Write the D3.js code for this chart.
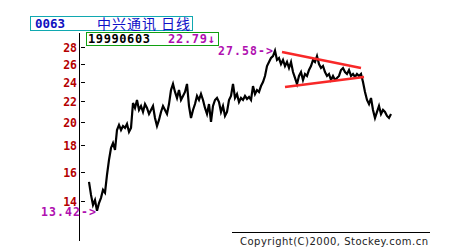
<!DOCTYPE html>
<html lang="zh">
<head>
    <meta charset="UTF-8">
    <title>0063</title>
    <style>
        body{ margin:0; background:#fff; }
        svg{ display:block; }
        .mono{ font-family:"DejaVu Sans Mono", monospace; font-weight:bold; }
    </style>
    <script src="https://cdn.jsdelivr.net/npm/d3@7"></script>
</head>
<body>
<script>
    const width = 450
    const height = 250

    // daily closes (one per 2px column)
    const closes = [15.28,14.41,13.77,14.08,13.42,13.89,14.22,14.74,14.55,15.76,
        16.87,17.80,18.20,17.64,19.30,19.74,19.30,19.65,19.48,19.83,
        19.13,19.48,21.79,21.31,22.09,21.12,21.50,20.93,21.69,21.31,
        20.74,21.12,21.50,20.37,19.65,20.19,20.93,21.50,21.12,20.74,
        21.69,23.10,23.74,22.90,22.29,23.10,22.09,22.49,22.90,23.74,
        21.50,20.37,21.12,21.69,22.49,22.09,22.69,22.09,21.31,20.74,
        21.69,20.01,21.50,22.09,22.29,21.89,20.93,21.50,20.56,20.93,
        22.09,22.49,23.74,22.29,22.69,21.89,22.29,22.09,22.49,22.19,
        22.39,22.09,23.52,22.69,23.10,22.90,23.52,23.95,24.61,25.74,
        26.21,26.68,26.92,27.58,26.45,26.68,25.97,26.45,25.74,26.21,
        25.51,26.21,25.05,24.39,23.74,24.61,25.05,24.17,24.83,24.61,
        25.28,25.74,26.45,26.21,26.92,25.97,25.51,25.74,25.05,24.61,
        24.83,24.17,24.61,24.17,24.39,24.61,25.28,25.51,25.05,24.83,
        25.28,24.61,24.83,24.50,24.83,24.61,24.83,23.95,22.90,22.09,
        21.69,22.29,21.12,20.37,20.93,21.50,20.74,21.12,20.93,20.56,
        20.37,20.74]

    const yTicks = [14,16,18,20,22,24,26,28]

    // triangle trend lines: [day index, price]
    const upperLine = [[96.5,27.41],[136,25.51]]
    const lowerLine = [[98,23.42],[137.5,24.50]]

    const maxMark = {label:"27.58->", value:27.58}
    const minMark = {label:"13.42->", value:13.42}

    const code = "0063"
    const title = "中兴通讯 日线"
    const curDate = "19990603"
    const curPrice = "22.79↓"
    const copyright = "Copyright(C)2000, Stockey.com.cn"

    let svg = d3.select("body").append("svg")
        .attr("width",width).attr("height",height)

    const x = d3.scaleLinear().domain([0,closes.length-1]).range([89,391])
    const y = d3.scaleLog().domain([14,28]).range([201.3,47.3])

    // header boxes
    svg.append("rect").attr("x",30.5).attr("y",16.5).attr("width",162).attr("height",14)
        .attr("fill","none").attr("stroke","#10a8b0")
    svg.append("text").attr("class","mono").attr("x",35).attr("y",28)
        .attr("font-size",12.5).attr("fill","#1010c0").text(code)
    svg.append("text").attr("x",97).attr("y",28.5)
        .attr("font-family","'Noto Sans CJK SC', sans-serif").attr("font-size",14)
        .attr("fill","#1010c8").attr("textLength",93).text(title)

    svg.append("rect").attr("x",86.5).attr("y",32.5).attr("width",132).attr("height",13)
        .attr("fill","none").attr("stroke","#10a010")
    svg.append("text").attr("class","mono").attr("x",88).attr("y",43)
        .attr("font-size",12).attr("fill","#000").attr("textLength",62).text(curDate)
    svg.append("text").attr("class","mono").attr("x",168).attr("y",43)
        .attr("font-size",12).attr("fill","#b010b0").attr("textLength",47).text(curPrice)

    // y axis
    svg.append("line").attr("x1",79.5).attr("x2",79.5).attr("y1",33).attr("y2",241)
        .attr("stroke","#000")
    let gTicks = svg.selectAll(".tick").data(yTicks).enter().append("g")
        .attr("transform",d=>`translate(0,${Math.round(y(d))+0.5})`)
    gTicks.append("line").attr("x1",81).attr("x2",85).attr("stroke","#000")
    gTicks.append("text").attr("class","mono").attr("x",77).attr("dy","0.36em")
        .attr("text-anchor","end").attr("font-size",11.5).attr("fill","#b40000")
        .text(d=>d)

    // price line
    svg.append("path").datum(closes)
        .attr("fill","none").attr("stroke","#000").attr("stroke-width",2.2)
        .attr("stroke-linejoin","miter")
        .attr("d",d3.line().x((d,i)=>x(i)).y(d=>y(d)))

    // trend lines
    const tl = d3.line().x(d=>x(d[0])).y(d=>y(d[1]))
    ;[upperLine,lowerLine].forEach(l=>{
        svg.append("path").datum(l).attr("d",tl)
            .attr("stroke","#f82828").attr("stroke-width",2.5).attr("fill","none")
    })

    // max / min markers
    svg.append("text").attr("class","mono").attr("x",273).attr("y",y(maxMark.value))
        .attr("dy","0.36em").attr("text-anchor","end").attr("font-size",11.5)
        .attr("fill","#b010b0").attr("textLength",55).text(maxMark.label)
    svg.append("text").attr("class","mono").attr("x",96).attr("y",y(minMark.value)+1)
        .attr("dy","0.36em").attr("text-anchor","end").attr("font-size",11.5)
        .attr("fill","#b010b0").attr("textLength",55).text(minMark.label)

    // footer
    svg.append("line").attr("x1",232).attr("x2",430).attr("y1",232.5).attr("y2",232.5)
        .attr("stroke","#000")
    svg.append("text").attr("x",240).attr("y",245)
        .attr("font-family","'DejaVu Sans', sans-serif").attr("font-size",10)
        .attr("fill","#222").attr("textLength",188).text(copyright)
</script>
</body>
</html>
